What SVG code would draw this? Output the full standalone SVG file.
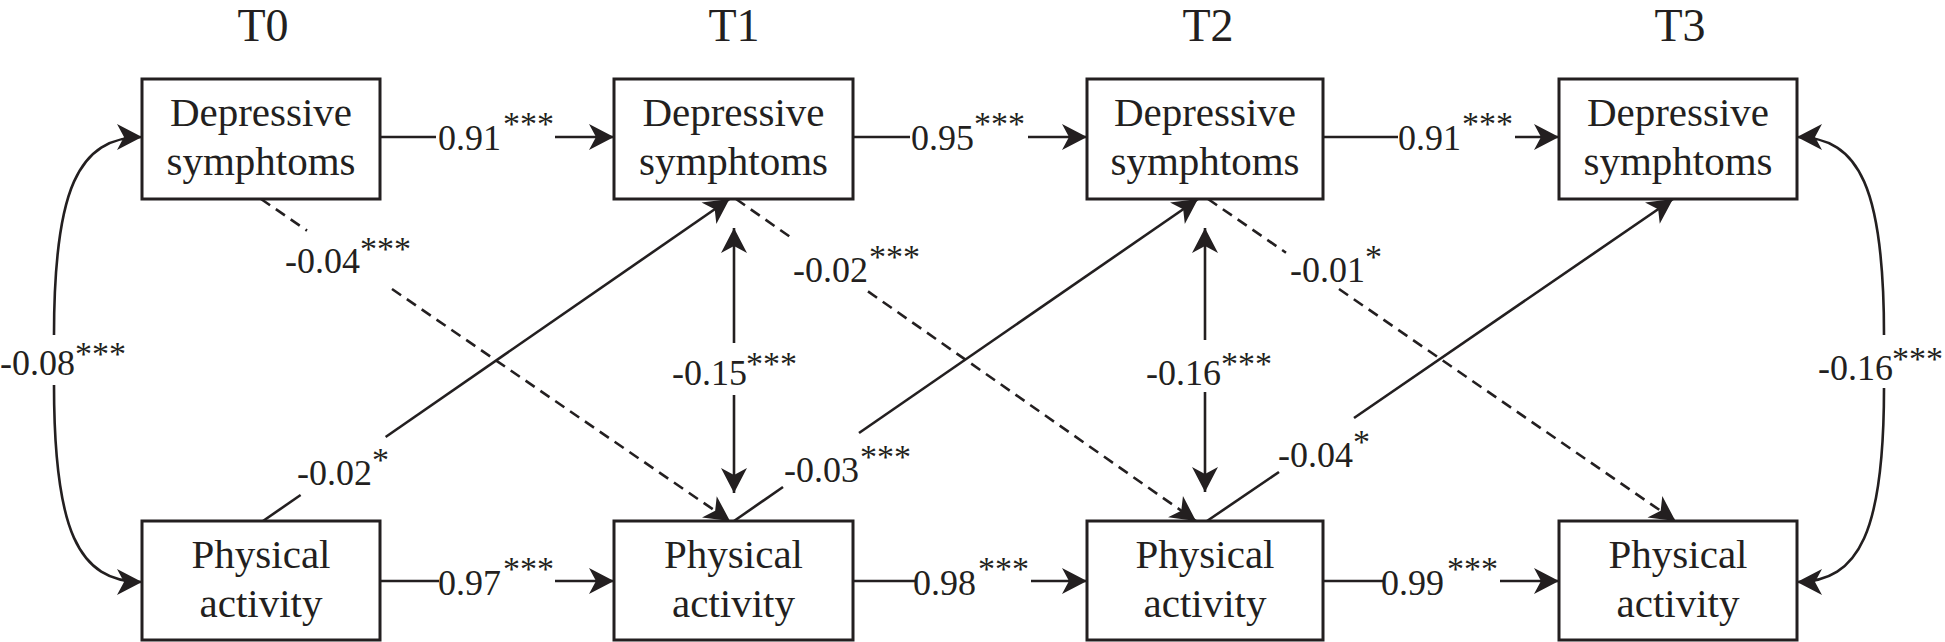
<svg xmlns="http://www.w3.org/2000/svg" width="1945" height="642" viewBox="0 0 1945 642">
<style>
  .box{fill:#fff;stroke:#231f20;stroke-width:3}
  .nt{font-family:"Liberation Serif","Times New Roman",serif;font-size:41px;fill:#231f20;text-anchor:middle}
  .tt{font-family:"Liberation Serif","Times New Roman",serif;font-size:46px;fill:#231f20;text-anchor:middle}
  .lb{font-family:"Liberation Serif","Times New Roman",serif;font-size:36px;fill:#231f20}
  .st{font-family:"Liberation Serif","Times New Roman",serif;font-size:34px;fill:#231f20}
  .ln{fill:none;stroke:#231f20;stroke-width:2.6}
  .ds{fill:none;stroke:#231f20;stroke-width:2.6;stroke-dasharray:11 7}
  .ar{marker-end:url(#ah)}
</style>
<defs>
  <marker id="ah" viewBox="-27 -15 29 30" refX="0" refY="0" markerWidth="29" markerHeight="30" markerUnits="userSpaceOnUse" orient="auto">
    <path d="M0,0 L-25,-13 L-18,0 L-25,13 Z" fill="#231f20"/>
  </marker>
</defs>
<rect width="1945" height="642" fill="#fff"/>

<g id="titles">
  <text class="tt" x="263" y="41">T0</text>
  <text class="tt" x="734" y="41">T1</text>
  <text class="tt" x="1208" y="41">T2</text>
  <text class="tt" x="1680" y="41">T3</text>
</g>

<g id="connectors">
  <!-- autoregressive top -->
  <path class="ln" d="M380,137 H436"/>
  <path class="ln ar" d="M555,137 H614"/>
  <path class="ln" d="M853,137 H910"/>
  <path class="ln ar" d="M1028,137 H1087"/>
  <path class="ln" d="M1323,137 H1398"/>
  <path class="ln ar" d="M1515,137 H1559"/>
  <!-- autoregressive bottom -->
  <path class="ln" d="M380,581 H439"/>
  <path class="ln ar" d="M555,581 H614"/>
  <path class="ln" d="M853,581 H915"/>
  <path class="ln ar" d="M1031,581 H1087"/>
  <path class="ln" d="M1323,581 H1383"/>
  <path class="ln ar" d="M1500,581 H1559"/>
  <!-- side covariances -->
  <path class="ln ar" d="M54,335 C54,190 78,137 142,137"/>
  <path class="ln ar" d="M54,385 C54,530 78,582 142,582"/>
  <path class="ln ar" d="M1884,335 C1884,190 1860,137 1797,137"/>
  <path class="ln ar" d="M1884,388 C1884,530 1860,582 1797,582"/>
  <!-- vertical covariances -->
  <path class="ln ar" d="M734,343 V228"/>
  <path class="ln ar" d="M734,395 V493"/>
  <path class="ln ar" d="M1205,340 V228"/>
  <path class="ln ar" d="M1205,392 V492"/>
  <!-- PA -> Dep (solid) -->
  <path class="ln" d="M263,521 L300.6,495"/>
  <path class="ln ar" d="M385.6,437 L729.5,199"/>
  <path class="ln" d="M734,521 L783,487"/>
  <path class="ln ar" d="M859,433 L1198,199"/>
  <path class="ln" d="M1207,521 L1279,472"/>
  <path class="ln ar" d="M1354,418 L1673,199"/>
  <!-- Dep -> PA (dashed) -->
  <path class="ds" d="M261,199 L307,230.6"/>
  <path class="ds ar" d="M392,289 L730,521"/>
  <path class="ds" d="M736,199 L794,239.6"/>
  <path class="ds ar" d="M868,291.4 L1196,521"/>
  <path class="ds" d="M1208,199 L1286,252.7"/>
  <path class="ds ar" d="M1339,289 L1675.5,521"/>
</g>

<g id="labels">
  <text class="lb" x="438" y="150">0.91</text><text class="st" x="503" y="135">***</text>
  <text class="lb" x="911" y="150">0.95</text><text class="st" x="974" y="135">***</text>
  <text class="lb" x="1398" y="150">0.91</text><text class="st" x="1462" y="135">***</text>
  <text class="lb" x="438" y="595">0.97</text><text class="st" x="503" y="580">***</text>
  <text class="lb" x="913" y="595">0.98</text><text class="st" x="978" y="580">***</text>
  <text class="lb" x="1381" y="595">0.99</text><text class="st" x="1447" y="580">***</text>
  <text class="lb" x="0" y="375">-0.08</text><text class="st" x="75" y="365">***</text>
  <text class="lb" x="1818" y="380">-0.16</text><text class="st" x="1892" y="370">***</text>
  <text class="lb" x="672" y="385">-0.15</text><text class="st" x="746" y="375">***</text>
  <text class="lb" x="1146" y="385">-0.16</text><text class="st" x="1221" y="375">***</text>
  <text class="lb" x="285" y="273">-0.04</text><text class="st" x="360" y="260">***</text>
  <text class="lb" x="793" y="282">-0.02</text><text class="st" x="869" y="268">***</text>
  <text class="lb" x="1290" y="282">-0.01</text><text class="st" x="1365" y="268">*</text>
  <text class="lb" x="297" y="485">-0.02</text><text class="st" x="372" y="471">*</text>
  <text class="lb" x="784" y="482">-0.03</text><text class="st" x="860" y="468">***</text>
  <text class="lb" x="1278" y="467">-0.04</text><text class="st" x="1353" y="453">*</text>
</g>

<g id="dep0"><rect class="box" x="142" y="79" width="238" height="120"/><text class="nt" x="261" y="126">Depressive</text><text class="nt" x="261" y="175">symphtoms</text></g>
<g id="dep1"><rect class="box" x="614" y="79" width="239" height="120"/><text class="nt" x="733.5" y="126">Depressive</text><text class="nt" x="733.5" y="175">symphtoms</text></g>
<g id="dep2"><rect class="box" x="1087" y="79" width="236" height="120"/><text class="nt" x="1205" y="126">Depressive</text><text class="nt" x="1205" y="175">symphtoms</text></g>
<g id="dep3"><rect class="box" x="1559" y="79" width="238" height="120"/><text class="nt" x="1678" y="126">Depressive</text><text class="nt" x="1678" y="175">symphtoms</text></g>
<g id="pa0"><rect class="box" x="142" y="521" width="238" height="119"/><text class="nt" x="261" y="568">Physical</text><text class="nt" x="261" y="617">activity</text></g>
<g id="pa1"><rect class="box" x="614" y="521" width="239" height="119"/><text class="nt" x="733.5" y="568">Physical</text><text class="nt" x="733.5" y="617">activity</text></g>
<g id="pa2"><rect class="box" x="1087" y="521" width="236" height="119"/><text class="nt" x="1205" y="568">Physical</text><text class="nt" x="1205" y="617">activity</text></g>
<g id="pa3"><rect class="box" x="1559" y="521" width="238" height="119"/><text class="nt" x="1678" y="568">Physical</text><text class="nt" x="1678" y="617">activity</text></g>
</svg>
